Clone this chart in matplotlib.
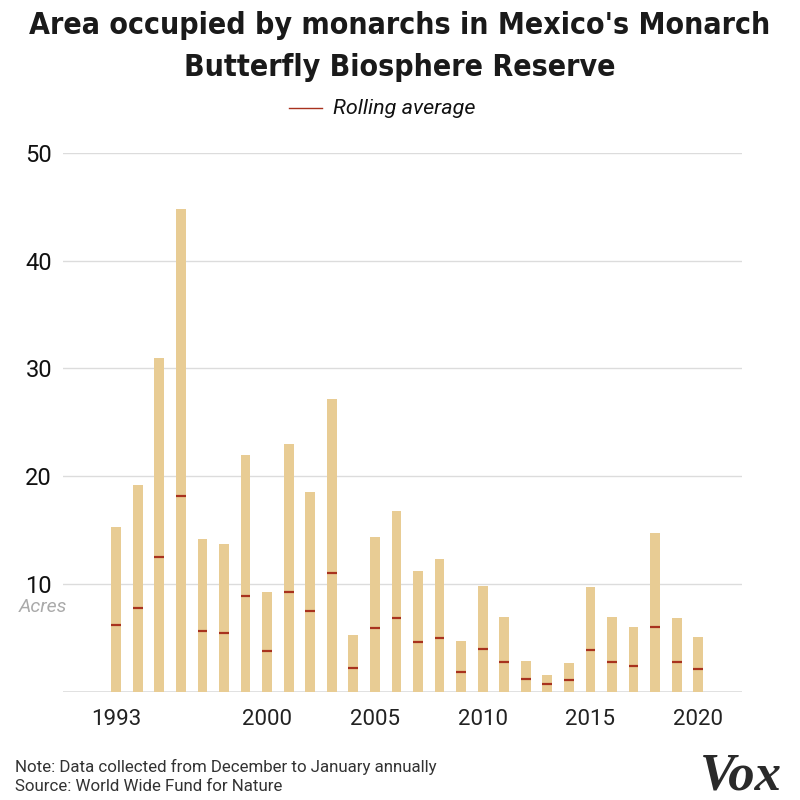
import matplotlib
matplotlib.use('Agg')
import matplotlib.pyplot as plt
from matplotlib.lines import Line2D

years = list(range(1993, 2021))
acres = [15.3, 19.2, 31.0, 44.8, 14.2, 13.7, 22.0, 9.3, 23.0, 18.5,
         27.2, 5.3, 14.4, 16.8, 11.2, 12.3, 4.7, 9.8, 7.0, 2.9,
         1.6, 2.7, 9.7, 7.0, 6.0, 14.7, 6.9, 5.1]
rolling = [6.2, 7.8, 12.5, 18.2, 5.7, 5.5, 8.9, 3.8, 9.3, 7.5,
           11.0, 2.2, 5.9, 6.9, 4.6, 5.0, 1.9, 4.0, 2.8, 1.2,
           0.7, 1.1, 3.9, 2.8, 2.4, 6.0, 2.8, 2.1]
xticks = [1993, 2000, 2005, 2010, 2015, 2020]
yticks = [10, 20, 30, 40, 50]

bar_color = '#e8cc94'
red = '#a8321e'


def fit_width(fig, txt, target_px):
    # shrink/grow a text so it spans target_px pixels
    r = fig.canvas.get_renderer()
    wpx = txt.get_window_extent(renderer=r).width
    txt.set_fontsize(txt.get_fontsize() * target_px / wpx)


fig = plt.figure(figsize=(8, 8), dpi=100)
ax = fig.add_axes([0.079, 0.135, 0.849, 0.674])

w = 0.45
ax.bar(years, acres, width=w, color=bar_color, zorder=2)
ax.hlines(rolling, [y - w / 2 for y in years], [y + w / 2 for y in years],
          color=red, lw=1.6, zorder=3)

ax.set_xlim(1990.54, 2022.05)
ax.set_ylim(0, 50)
ax.set_yticks(yticks)
ax.set_xticks(xticks)
ax.set_xticklabels([str(x) for x in xticks], fontsize=16, family='Roboto',
                   fontstretch='condensed', color='#222')
ax.set_yticklabels([str(y) for y in yticks], fontsize=17, family='Roboto',
                   color='#111')
ax.tick_params(axis='both', length=0)
ax.tick_params(axis='x', pad=12)
ax.tick_params(axis='y', pad=8)
ax.grid(axis='y', color='#dcdcdc', lw=1, zorder=0)
for s in ax.spines.values():
    s.set_visible(False)
ax.axhline(0, color='#dcdcdc', lw=1.2, zorder=1)

ax.text(-0.065, 0.158, 'Acres', transform=ax.transAxes, fontsize=14,
        style='italic', color='#aaaaaa', family='Roboto', va='center')

t1 = fig.text(0.5, 0.968, "Area occupied by monarchs in Mexico's Monarch",
              ha='center', va='center', fontsize=24, weight='bold',
              family='DejaVu Sans', fontstretch='condensed', color='#1a1a1a')
t2 = fig.text(0.5, 0.915, 'Butterfly Biosphere Reserve',
              ha='center', va='center', fontsize=24, weight='bold',
              family='DejaVu Sans', fontstretch='condensed', color='#1a1a1a')

fig.add_artist(Line2D([0.361, 0.403], [0.865, 0.865], color=red, lw=1,
                      transform=fig.transFigure))
leg = fig.text(0.416, 0.865, 'Rolling average', ha='left', va='center',
               fontsize=15, style='italic', family='Roboto', color='#111')

n1 = fig.text(0.019, 0.041,
              'Note: Data collected from December to January annually',
              fontsize=12, family='Roboto', color='#333', va='center')
n2 = fig.text(0.019, 0.017, 'Source: World Wide Fund for Nature',
              fontsize=12, family='Roboto', color='#333', va='center')
fig.text(0.978, 0.03, 'Vox', ha='right', va='center', fontsize=38,
         weight='bold', style='italic', family='Liberation Serif',
         color='#2a2a2a')

fig.canvas.draw()
fit_width(fig, t1, 743)
t2.set_fontsize(t1.get_fontsize())
fit_width(fig, leg, 142)
fit_width(fig, n1, 423)
n2.set_fontsize(n1.get_fontsize())

plt.savefig('out.png', dpi=100)
plt.close()
